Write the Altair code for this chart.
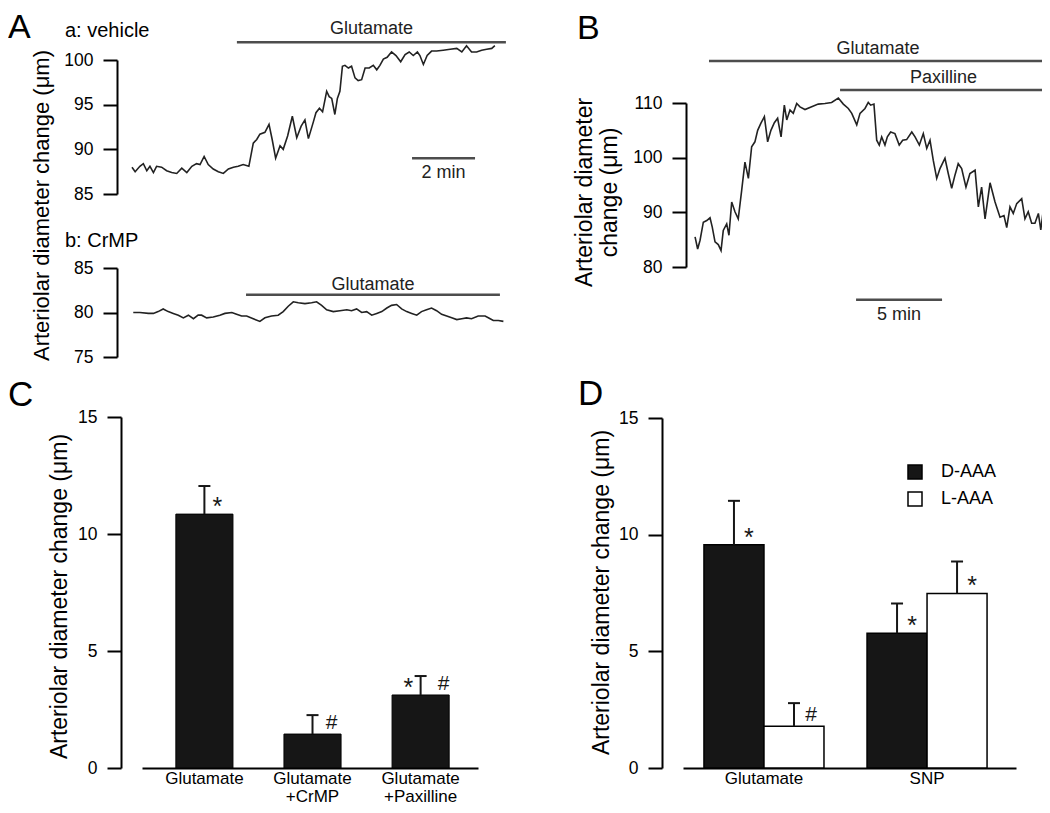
import altair as alt
import pandas as pd

FONT = "Liberation Sans"
INK = "#161616"
TRACE = "#222222"
BARLINE = "#4d4d4d"
W, H = 1034, 797

# ---------------- Panel A, a: vehicle  (time in min, diameter in um)
A_VEH_MIN = [
    0.00, 0.10, 0.25, 0.36, 0.47, 0.57, 0.68, 0.78, 0.94, 1.10,
    1.26, 1.42, 1.58, 1.74, 1.90, 2.05, 2.16, 2.29, 2.42, 2.58,
    2.74, 2.90, 3.06, 3.22, 3.37, 3.53, 3.71, 3.85, 3.96, 4.06,
    4.22, 4.35, 4.45, 4.56, 4.70, 4.80, 4.94, 5.09, 5.23, 5.37,
    5.49, 5.60, 5.76, 5.84, 5.95, 6.05, 6.18, 6.26, 6.34, 6.44,
    6.52, 6.60, 6.68, 6.76, 6.87, 6.97, 7.08, 7.18, 7.29, 7.40,
    7.53, 7.66, 7.77, 7.87, 7.98, 8.10, 8.24, 8.38, 8.53, 8.67,
    8.80, 8.93, 9.06, 9.14, 9.25, 9.37, 9.51, 9.67, 9.88, 10.10,
    10.31, 10.47, 10.62, 10.78, 10.94, 11.10, 11.26, 11.42, 11.52,
]
A_VEH_UM = [
    88.0, 87.5, 88.1, 88.4, 87.6, 88.1, 87.4, 88.1, 88.0, 87.6,
    87.4, 87.3, 87.9, 87.4, 88.1, 88.4, 88.3, 89.2, 88.3, 87.8,
    87.5, 87.3, 87.8, 88.0, 88.1, 88.3, 88.1, 90.7, 91.1, 91.7,
    91.9, 92.8, 91.1, 89.0, 90.4, 90.0, 91.5, 93.7, 91.3, 92.6,
    93.3, 91.2, 93.1, 94.1, 94.6, 94.2, 96.5, 95.9, 95.7, 93.9,
    95.7, 96.5, 99.3, 99.4, 99.1, 99.3, 98.0, 97.7, 97.8, 99.1,
    99.1, 99.4, 98.9, 99.4, 100.1, 100.3, 100.9, 100.5, 99.8, 100.6,
    100.9, 100.5, 100.9, 100.5, 99.5, 100.5, 101.0, 101.0, 101.1, 101.2,
    101.3, 100.9, 101.6, 100.9, 100.9, 101.1, 101.2, 101.3, 101.6,
]
A_VEH_BAR_LABEL = ["Glutamate", "2 min"]
A_VEH_BAR_START = [3.33, 8.89]
A_VEH_BAR_END = [11.87, 10.89]
A_VEH_BAR_LEVEL = [102.0, 89.0]
A_VEH_BAR_SIDE = ["above", "below"]

# ---------------- Panel A, b: CrMP
A_CRMP_MIN = [
    0.04, 0.25, 0.52, 0.68, 0.83, 0.99, 1.15, 1.31, 1.47, 1.63,
    1.79, 1.95, 2.10, 2.21, 2.37, 2.58, 2.79, 2.95, 3.17, 3.32,
    3.48, 3.64, 3.85, 4.06, 4.22, 4.43, 4.64, 4.80, 4.96, 5.12,
    5.28, 5.49, 5.70, 5.86, 6.02, 6.18, 6.39, 6.60, 6.82, 6.97,
    7.13, 7.29, 7.45, 7.61, 7.77, 7.93, 8.09, 8.24, 8.40, 8.56,
    8.72, 8.88, 9.04, 9.19, 9.35, 9.51, 9.67, 9.83, 9.99, 10.15,
    10.31, 10.47, 10.62, 10.78, 10.99, 11.21, 11.37, 11.47, 11.63, 11.79,
]
A_CRMP_UM = [
    80.0, 80.0, 79.9, 79.9, 80.1, 80.4, 80.1, 79.9, 79.7, 79.4,
    79.7, 79.3, 79.7, 79.7, 79.4, 79.5, 79.7, 79.9, 80.0, 79.8,
    79.6, 79.6, 79.3, 79.0, 79.4, 79.6, 79.7, 80.1, 80.7, 81.2,
    81.1, 81.0, 81.1, 81.2, 80.8, 80.3, 80.1, 80.2, 80.3, 80.2,
    80.4, 80.0, 80.1, 79.7, 79.9, 80.1, 80.5, 80.8, 80.9, 80.4,
    80.1, 79.9, 79.7, 80.1, 80.3, 80.5, 80.2, 79.8, 79.6, 79.4,
    79.2, 79.3, 79.4, 79.3, 79.6, 79.6, 79.3, 79.1, 79.1, 79.0,
]
A_CRMP_BAR_LABEL = ["Glutamate"]
A_CRMP_BAR_START = [3.62]
A_CRMP_BAR_END = [11.68]
A_CRMP_BAR_LEVEL = [82.0]
A_CRMP_BAR_SIDE = ["above"]

# ---------------- Panel B
B_MIN = [
    0.12, 0.27, 0.41, 0.60, 0.80, 0.99, 1.12, 1.28, 1.47, 1.63,
    1.76, 1.96, 2.09, 2.25, 2.44, 2.63, 2.83, 3.02, 3.22, 3.41,
    3.60, 3.76, 3.95, 4.15, 4.34, 4.53, 4.73, 4.92, 5.12, 5.31,
    5.45, 5.64, 5.83, 6.03, 6.22, 6.51, 6.90, 7.28, 7.67, 8.06,
    8.45, 8.74, 9.03, 9.23, 9.52, 9.71, 10.00, 10.19, 10.33, 10.52,
    10.68, 10.83, 10.97, 11.16, 11.30, 11.49, 11.74, 11.99, 12.19, 12.42,
    12.72, 12.91, 13.16, 13.39, 13.59, 13.78, 13.97, 14.17, 14.36, 14.65,
    14.84, 15.04, 15.23, 15.42, 15.62, 15.87, 16.10, 16.40, 16.59, 16.78,
    16.98, 17.27, 17.56, 17.85, 18.08, 18.24, 18.43, 18.62, 18.82, 19.11,
    19.30, 19.49, 19.69, 19.88, 20.08, 20.22, 20.37, 20.52,
]
B_UM = [
    85.5, 83.3, 84.9, 88.2, 88.5, 89.0, 87.3, 84.6, 84.1, 83.0,
    86.7, 87.9, 85.8, 91.9, 90.1, 88.8, 94.0, 99.2, 96.2, 102.0,
    102.9, 105.0, 106.3, 107.5, 102.9, 105.0, 106.4, 107.2, 103.8, 109.6,
    106.9, 108.7, 108.1, 109.9, 109.3, 108.8, 109.3, 109.8, 109.9, 110.1,
    110.9, 109.8, 109.0, 108.1, 106.0, 108.1, 109.0, 110.1, 109.6, 109.8,
    103.2, 102.3, 103.8, 102.3, 103.8, 104.7, 104.4, 102.3, 103.2, 103.3,
    104.7, 103.8, 102.3, 104.4, 101.7, 103.2, 99.5, 96.2, 98.0, 99.9,
    97.1, 94.4, 96.8, 98.9, 98.0, 94.6, 97.1, 97.7, 91.0, 94.6,
    88.8, 95.4, 91.9, 89.1, 89.4, 87.2, 91.0, 89.8, 91.6, 92.5,
    88.8, 90.1, 88.0, 88.0, 89.8, 86.8, 90.5, 90.1,
]
B_BAR_LABEL = ["Glutamate", "Paxilline", "5 min"]
B_BAR_START = [0.93, 8.55, 9.48]
B_BAR_END = [20.58, 20.58, 14.48]
B_BAR_LEVEL = [117.7, 112.4, 74.0]
B_BAR_SIDE = ["above", "above", "below"]

# ---------------- Panel C
C_GROUPS = ["Glutamate", "Glutamate\n+CrMP", "Glutamate\n+Paxilline"]
C_MEAN = [10.85, 1.45, 3.12]
C_SEM = [1.20, 0.81, 0.81]
C_ANN_GROUP = ["Glutamate", "Glutamate\n+CrMP", "Glutamate\n+Paxilline", "Glutamate\n+Paxilline"]
C_ANN_SYMBOL = ["*", "#", "*", "#"]
C_ANN_SIDE = ["right", "right", "left", "right"]

# ---------------- Panel D
D_GROUPS = ["Glutamate", "SNP"]
D_TREATS = ["D-AAA", "L-AAA"]
D_GROUP = ["Glutamate", "Glutamate", "SNP", "SNP"]
D_TREAT = ["D-AAA", "L-AAA", "D-AAA", "L-AAA"]
D_MEAN = [9.57, 1.79, 5.77, 7.48]
D_SEM = [1.88, 0.99, 1.28, 1.37]
D_ANN_SYMBOL = ["*", "#", "*", "*"]
D_ANN_SIDE = ["right", "right", "right", "right"]

YTITLE = "Arteriolar diameter change (μm)"


def yaxis(values, offset, title=None, tx=0, ty=0, size=23, lh=25):
    kw = dict(orient="left", offset=offset, values=values, grid=False,
              domainColor="black", domainWidth=2, tickColor="black",
              tickWidth=2, tickSize=14, labelFont=FONT, labelFontSize=17.5,
              labelColor="black", labelPadding=10)
    if title is None:
        kw["title"] = None
    else:
        kw.update(title=title, titleX=tx, titleY=ty, titleAngle=270,
                  titleBaseline="middle", titleAlign="center", titleFont=FONT,
                  titleFontSize=size, titleFontWeight="normal",
                  titleColor="black", titleLineHeight=lh)
    return alt.Axis(**kw)


def xaxis(offset):
    return alt.Axis(orient="bottom", offset=offset, title=None, grid=False,
                    ticks=False, domainColor="black", domainWidth=2,
                    labelAngle=0, labelFont=FONT, labelFontSize=17,
                    labelColor="black", labelPadding=2, labelLineHeight=18,
                    labelExpr="split(datum.label, '\\n')")


def bar_df(labels, starts, ends, levels, sides):
    df = pd.DataFrame({"label": labels, "start": starts, "end": ends,
                       "level": levels, "side": sides})
    df["mid"] = (df["start"] + df["end"]) / 2
    return df


def annotation_layers(df, xscale, yscale, above_dy):
    base = alt.Chart(df)
    xs = dict(scale=xscale, axis=None)
    ys = dict(scale=yscale, axis=None)
    rule = base.mark_rule(color=BARLINE, strokeWidth=2.5).encode(
        x=alt.X("start:Q", **xs), x2="end:Q", y=alt.Y("level:Q", **ys))
    out = [rule]
    if (df["side"] == "above").any():
        out.append(base.transform_filter("datum.side == 'above'").mark_text(
            font=FONT, fontSize=18, color=TRACE, baseline="alphabetic", dy=above_dy
        ).encode(x=alt.X("mid:Q", **xs), y=alt.Y("level:Q", **ys), text="label:N"))
    if (df["side"] == "below").any():
        out.append(base.transform_filter("datum.side == 'below'").mark_text(
            font=FONT, fontSize=18, color=TRACE, baseline="top", dy=6
        ).encode(x=alt.X("mid:Q", **xs), y=alt.Y("level:Q", **ys), text="label:N"))
    return out


layers = []

# ---------------- Panel A
a_x = alt.Scale(domain=[0, 12], range=[124, 502])
a_top_y = alt.Scale(domain=[85, 100], range=[186, 52])
a_bot_y = alt.Scale(domain=[75, 85], range=[349, 260])

veh = pd.DataFrame({"min": A_VEH_MIN, "um": A_VEH_UM})
layers.append(
    alt.Chart(veh).mark_line(color=TRACE, strokeWidth=1.6).encode(
        x=alt.X("min:Q", scale=a_x, axis=None),
        y=alt.Y("um:Q", scale=a_top_y,
                axis=yaxis([85, 90, 95, 100], -109, YTITLE, -76, 197, size=22))))
layers += annotation_layers(bar_df(A_VEH_BAR_LABEL, A_VEH_BAR_START, A_VEH_BAR_END,
                                   A_VEH_BAR_LEVEL, A_VEH_BAR_SIDE), a_x, a_top_y, -8)

crmp = pd.DataFrame({"min": A_CRMP_MIN, "um": A_CRMP_UM})
layers.append(
    alt.Chart(crmp).mark_line(color=TRACE, strokeWidth=1.6).encode(
        x=alt.X("min:Q", scale=a_x, axis=None),
        y=alt.Y("um:Q", scale=a_bot_y, axis=yaxis([75, 80, 85], -109))))
layers += annotation_layers(bar_df(A_CRMP_BAR_LABEL, A_CRMP_BAR_START, A_CRMP_BAR_END,
                                   A_CRMP_BAR_LEVEL, A_CRMP_BAR_SIDE), a_x, a_bot_y, -5)

# ---------------- Panel B
b_x = alt.Scale(domain=[0, 21], range=[685, 1046.2])
b_y = alt.Scale(domain=[80, 110], range=[259, 95])
btr = pd.DataFrame({"min": B_MIN, "um": B_UM})
layers.append(
    alt.Chart(btr).mark_line(color=TRACE, strokeWidth=1.6).encode(
        x=alt.X("min:Q", scale=b_x, axis=None),
        y=alt.Y("um:Q", scale=b_y,
                axis=yaxis([80, 90, 100, 110], -678,
                           ["Arteriolar diameter", "change (μm)"], -102, 184))))
layers += annotation_layers(bar_df(B_BAR_LABEL, B_BAR_START, B_BAR_END,
                                   B_BAR_LEVEL, B_BAR_SIDE), b_x, b_y, -7)


def sig_layers(df, xenc, yscale, extra=None):
    extra = extra or {}
    out = []
    specs = [("*", "right", 25, 15, 1), ("*", "left", 25, -18, 1), ("#", "right", 21, 17, -5)]
    for sym, side, size, dx, dy in specs:
        if not ((df["symbol"] == sym) & (df["side"] == side)).any():
            continue
        out.append(
            alt.Chart(df)
            .transform_filter(f"datum.symbol == '{sym}' && datum.side == '{side}'")
            .mark_text(font=FONT, fontSize=size, color=INK, baseline="alphabetic",
                       align="center", dx=dx, dy=dy)
            .encode(x=xenc, y=alt.Y("at:Q", scale=yscale, axis=None),
                    text="symbol:N", **extra)
        )
    return out


# ---------------- Panel C
c_df = pd.DataFrame({"group": C_GROUPS, "mean": C_MEAN, "sem": C_SEM})
c_df["top"] = c_df["mean"] + c_df["sem"]
c_ann = pd.DataFrame({"group": C_ANN_GROUP, "symbol": C_ANN_SYMBOL, "side": C_ANN_SIDE})
c_ann = c_ann.merge(c_df[["group", "mean"]], on="group").rename(columns={"mean": "at"})

c_xscale = alt.Scale(domain=C_GROUPS, range=[134, 470], paddingInner=0.472,
                     paddingOuter=0.29, align=0.54)
c_y = alt.Scale(domain=[0, 15], range=[760, 409], nice=False)
c_x_axis = alt.X("group:N", sort=C_GROUPS, scale=c_xscale, axis=xaxis(-37))
c_x_plain = alt.X("group:N", sort=C_GROUPS, scale=c_xscale, axis=None)

layers.append(
    alt.Chart(c_df).mark_bar(fill=INK, stroke="black", strokeWidth=1).encode(
        x=c_x_axis,
        y=alt.Y("mean:Q", scale=c_y, axis=yaxis([0, 5, 10, 15], -113, YTITLE, -62, 588))))
layers.append(
    alt.Chart(c_df).mark_rule(color=INK, strokeWidth=2).encode(
        x=c_x_plain, y=alt.Y("mean:Q", scale=c_y, axis=None), y2="top:Q"))
layers.append(
    alt.Chart(c_df).mark_tick(color=INK, thickness=2, size=12, orient="horizontal",
                              opacity=1).encode(
        x=c_x_plain, y=alt.Y("top:Q", scale=c_y, axis=None)))
layers += sig_layers(c_ann, c_x_plain, c_y)

# ---------------- Panel D
d_df = pd.DataFrame({"group": D_GROUP, "treat": D_TREAT, "mean": D_MEAN,
                     "sem": D_SEM, "symbol": D_ANN_SYMBOL, "side": D_ANN_SIDE})
d_df["top"] = d_df["mean"] + d_df["sem"]
d_df["at"] = d_df["mean"]

d_xscale = alt.Scale(domain=D_GROUPS, range=[675, 1008], paddingInner=0.264,
                     paddingOuter=0.153, align=0.42)
d_y = alt.Scale(domain=[0, 15], range=[760, 410], nice=False)
d_x_axis = alt.X("group:N", sort=D_GROUPS, scale=d_xscale, axis=xaxis(-37))
d_x_plain = alt.X("group:N", sort=D_GROUPS, scale=d_xscale, axis=None)
d_off = alt.XOffset("treat:N", sort=D_TREATS,
                    scale=alt.Scale(domain=D_TREATS, paddingInner=0, paddingOuter=0))

layers.append(
    alt.Chart(d_df).mark_bar(stroke="black", strokeWidth=1.5).encode(
        x=d_x_axis, xOffset=d_off,
        y=alt.Y("mean:Q", scale=d_y, axis=yaxis([0, 5, 10, 15], -654, YTITLE, -61, 584)),
        fill=alt.Fill("treat:N", sort=D_TREATS,
                      scale=alt.Scale(domain=D_TREATS, range=[INK, "#ffffff"]),
                      legend=alt.Legend(title=None, orient="none", legendX=898, legendY=455,
                                        symbolType="square", symbolSize=196,
                                        symbolStrokeColor="black", symbolStrokeWidth=1.5,
                                        labelFont=FONT, labelFontSize=18,
                                        labelColor="black", labelOffset=17,
                                        rowPadding=7, padding=0))))
layers.append(
    alt.Chart(d_df).mark_rule(color=INK, strokeWidth=2).encode(
        x=d_x_plain, xOffset=d_off, y=alt.Y("mean:Q", scale=d_y, axis=None), y2="top:Q"))
layers.append(
    alt.Chart(d_df).mark_tick(color=INK, thickness=2, size=12, orient="horizontal",
                              opacity=1).encode(
        x=d_x_plain, xOffset=d_off, y=alt.Y("top:Q", scale=d_y, axis=None)))
layers += sig_layers(d_df, d_x_plain, d_y, extra={"xOffset": d_off})


# ---------------- Panel letters and sub-labels
def free_text(text, x, y, size):
    return alt.Chart(alt.Data(values=[{}])).mark_text(
        text=text, font=FONT, fontSize=size, color="black", align="left",
        baseline="alphabetic").encode(x=alt.value(x), y=alt.value(y))


layers += [
    free_text("A", 0, 30, 34),
    free_text("B", 569, 31, 34),
    free_text("C", 0, 398, 35),
    free_text("D", 570, 397, 35),
    free_text("a: vehicle", 57, 29, 20),
    free_text("b: CrMP", 57, 239, 20),
]

chart = (
    alt.layer(*layers)
    .resolve_scale(x="independent", y="independent")
    .resolve_axis(x="independent", y="independent")
    .properties(width=W, height=H, autosize=alt.AutoSizeParams(type="none"), padding=0)
    .configure(font=FONT)
    .configure_view(strokeWidth=0)
)

chart.save("out.html", embed_options={"renderer": "svg", "actions": False})
